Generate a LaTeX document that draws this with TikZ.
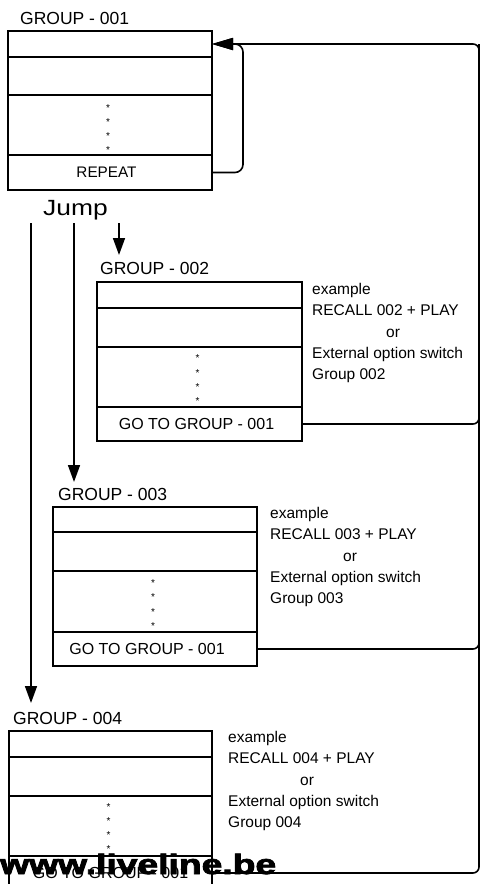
\documentclass[tikz,border=0pt]{standalone}
\usepackage{fontspec}
\setmainfont{Liberation Sans}
\newfontfamily\wmfont[FakeBold=2.5]{Liberation Sans Bold}
\usepackage{graphicx}
\usetikzlibrary{arrows.meta}
\begin{document}
\begin{tikzpicture}[x=1pt,y=-1pt,
  cell/.style={draw, line width=1.6pt, inner sep=0pt, outer sep=0pt, anchor=north west, minimum width=204pt},
  conn/.style={line width=1.6pt},
  tipd/.style={-{Triangle[length=17pt,width=12pt]}},
  glabel/.style={anchor=base west, inner sep=0pt, font=\fontsize{17.5}{20}\selectfont},
  side/.style={anchor=north west, align=left, inner sep=0pt, font=\fontsize{15.5}{21.3}\selectfont},
  rowtext/.style={inner sep=0pt, font=\fontsize{16}{18}\selectfont},
  dotstar/.style={inner sep=0pt, font=\fontsize{10}{10}\selectfont}]
\useasboundingbox (0,0) rectangle (480,884);
\clip (0,0) rectangle (480,884);

% ---------- group 1
\node[glabel] (g1l) at (20,24) {GROUP - 001};
\node[cell, minimum height=26pt] (g1a) at (8,31) {};
\node[cell, minimum height=38pt] (g1b) at (g1a.south west) {};
\node[cell, minimum height=60pt] (g1c) at (g1b.south west) {};
\node[cell, minimum height=35pt] (g1d) at (g1c.south west) {};
\node[dotstar] (g1s1) at ([shift={(-2,13)}]g1c.north) {*};
\node[dotstar] (g1s2) at ([shift={(-2,27)}]g1c.north) {*};
\node[dotstar] (g1s3) at ([shift={(-2,41)}]g1c.north) {*};
\node[dotstar] (g1s4) at ([shift={(-2,55)}]g1c.north) {*};
\node[rowtext, font=\fontsize{15.3}{18}\selectfont] (g1rep) at ([shift={(-3.5,0)}]g1d.center) {REPEAT};

\node[anchor=base, inner sep=0pt, font=\fontsize{22}{24}\selectfont] (jump) at (75.5,215) {\scalebox{1.2}[1]{Jump}};

% ---------- group 2
\node[glabel] (g2l) at (100,274) {GROUP - 002};
\node[cell, minimum height=26pt, minimum width=205pt] (g2a) at (97,282) {};
\node[cell, minimum height=39pt, minimum width=205pt] (g2b) at (g2a.south west) {};
\node[cell, minimum height=60pt, minimum width=205pt] (g2c) at (g2b.south west) {};
\node[cell, minimum height=34pt, minimum width=205pt] (g2d) at (g2c.south west) {};
\node[dotstar] (g2s1) at ([shift={(-2,11)}]g2c.north) {*};
\node[dotstar] (g2s2) at ([shift={(-2,26)}]g2c.north) {*};
\node[dotstar] (g2s3) at ([shift={(-2,40)}]g2c.north) {*};
\node[dotstar] (g2s4) at ([shift={(-2,54)}]g2c.north) {*};
\node[rowtext] (g2go) at ([shift={(-3,0)}]g2d.center) {GO TO GROUP - 001};
\node[side] (g2t) at (312,283) {example\\RECALL 002 + PLAY\\\hspace*{74pt}or\\External option switch\\Group 002};

% ---------- group 3
\node[glabel] (g3l) at (58,500.5) {GROUP - 003};
\node[cell, minimum height=25pt] (g3a) at (53,507) {};
\node[cell, minimum height=39pt] (g3b) at (g3a.south west) {};
\node[cell, minimum height=61pt] (g3c) at (g3b.south west) {};
\node[cell, minimum height=34pt] (g3d) at (g3c.south west) {};
\node[dotstar] (g3s1) at ([shift={(-2,12)}]g3c.north) {*};
\node[dotstar] (g3s2) at ([shift={(-2,26)}]g3c.north) {*};
\node[dotstar] (g3s3) at ([shift={(-2,41)}]g3c.north) {*};
\node[dotstar] (g3s4) at ([shift={(-2,55)}]g3c.north) {*};
\node[rowtext] (g3go) at ([shift={(-8,0)}]g3d.center) {GO TO GROUP - 001};
\node[side] (g3t) at (270,507) {example\\RECALL 003 + PLAY\\\hspace*{73pt}or\\External option switch\\Group 003};

% ---------- group 4
\node[glabel] (g4l) at (13,724) {GROUP - 004};
\node[cell, minimum height=26pt, minimum width=203pt] (g4a) at (9,731) {};
\node[cell, minimum height=39pt, minimum width=203pt] (g4b) at (g4a.south west) {};
\node[cell, minimum height=60pt, minimum width=203pt] (g4c) at (g4b.south west) {};
\node[cell, minimum height=34pt, minimum width=203pt] (g4d) at (g4c.south west) {};
\node[dotstar] (g4s1) at ([shift={(-2,11)}]g4c.north) {*};
\node[dotstar] (g4s2) at ([shift={(-2,25)}]g4c.north) {*};
\node[dotstar] (g4s3) at ([shift={(-2,39)}]g4c.north) {*};
\node[dotstar] (g4s4) at ([shift={(-2,53)}]g4c.north) {*};
\node[rowtext] (g4go) at (g4d.center) {GO TO GROUP - 001};
\node[side] (g4t) at (228,731) {example\\RECALL 004 + PLAY\\\hspace*{72pt}or\\External option switch\\Group 004};

% ---------- connectors
\coordinate (j4) at (31,223);  \coordinate (t4) at (31,703);
\coordinate (j3) at (74,223);  \coordinate (t3) at (74,482);
\coordinate (j2) at (119,223); \coordinate (t2) at (119,255);
\draw[conn, tipd] (j4) -- (t4);
\draw[conn, tipd] (j3) -- (t3);
\draw[conn, tipd] (j2) -- (t2);

\coordinate (rl) at (243,44);
\coordinate (tr) at (479,44);
\draw[conn, rounded corners=8pt, -{Triangle[length=21pt,width=12pt]}] (g1d.east) -| (rl) -- (g1a.east);
\draw[conn, rounded corners=6pt, -{Triangle[length=21pt,width=12pt]}] (g4d.east) -| (tr) -- (g1a.east);
\draw[conn, rounded corners=6pt] (g2d.east) -| (tr);
\draw[conn, rounded corners=6pt] (g3d.east) -| (tr);

% ---------- watermark
\node[anchor=base west, inner sep=0pt, font=\wmfont\fontsize{28}{30}\selectfont] (wm) at (0,874) {\scalebox{1.33}[1]{www.liveline.be}};
\end{tikzpicture}
\end{document}
